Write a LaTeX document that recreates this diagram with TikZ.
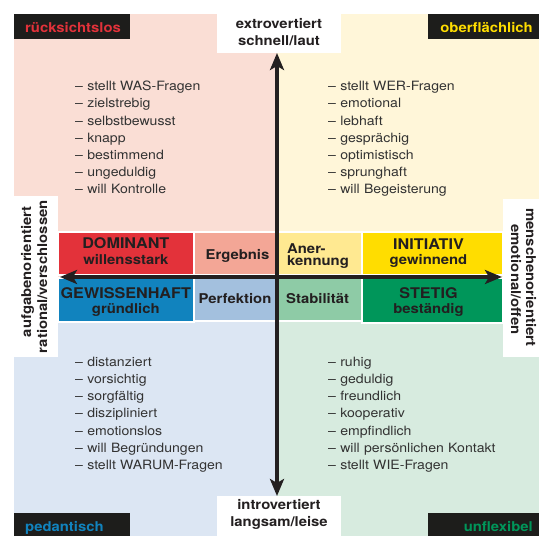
\documentclass[tikz,border=0pt]{standalone}
\usepackage{fontspec}
\setmainfont{TeX Gyre Heros}[FakeStretch=1.1]
\usetikzlibrary{arrows.meta}
\definecolor{qpink}{RGB}{250,222,213}
\definecolor{qyellow}{RGB}{255,246,217}
\definecolor{qblue}{RGB}{220,230,243}
\definecolor{qgreen}{RGB}{215,235,223}
\definecolor{dred}{RGB}{227,50,58}
\definecolor{lred}{RGB}{243,166,150}
\definecolor{dblue}{RGB}{17,131,190}
\definecolor{lblue}{RGB}{163,192,222}
\definecolor{dyellow}{RGB}{255,221,0}
\definecolor{lyellow}{RGB}{255,233,145}
\definecolor{dgreen}{RGB}{0,150,90}
\definecolor{lgreen}{RGB}{142,203,166}
\definecolor{ink}{RGB}{35,31,32}
\definecolor{txt}{RGB}{50,50,50}
\definecolor{tagbg}{RGB}{29,29,27}
\begin{document}
\begin{tikzpicture}[x=1pt,y=-1pt,
  area/.style={draw=none,inner sep=0,outer sep=0,anchor=north west},
  strip/.style={draw=white,line width=1.2pt,inner sep=0,outer sep=0,anchor=north west},
  lst/.style={text=txt,font=\fontsize{12.8}{17.15}\selectfont,align=left,text width=200pt,inner sep=0,anchor=base west},
  lab/.style={text=ink,font=\bfseries\fontsize{13.5}{16}\selectfont,inner sep=0,anchor=base},
  head/.style={text=ink,font=\bfseries\fontsize{14.7}{16}\selectfont,inner sep=0,anchor=base},
  tagtext/.style={font=\bfseries\fontsize{13.5}{16}\selectfont,inner sep=0},
  axis/.style={line width=3.6pt,draw=ink,{Stealth[length=17pt,width=14pt,inset=4pt]}-{Stealth[length=17pt,width=14pt,inset=4pt]}}
]
\useasboundingbox (0,0) rectangle (539,536);
% quadrants
\node[area,fill=qpink,minimum width=263pt,minimum height=263pt] (qTL) at (14,14) {};
\node[area,fill=qyellow,minimum width=262pt,minimum height=263pt] (qTR) at (277,14) {};
\node[area,fill=qblue,minimum width=263pt,minimum height=259pt] (qBL) at (14,277) {};
\node[area,fill=qgreen,minimum width=262pt,minimum height=259pt] (qBR) at (277,277) {};
% white axis label boxes
\node[area,fill=white,minimum width=124pt,minimum height=53pt] (boxN) at (217,0) {};
\node[area,fill=white,minimum width=124pt,minimum height=40pt] (boxS) at (217,496) {};
\node[area,fill=white,minimum width=44pt,minimum height=161pt] (boxW) at (14,196) {};
\node[area,fill=white,minimum width=36pt,minimum height=158pt] (boxE) at (503,199) {};
% black corner tags
\node[area,fill=tagbg,minimum width=116pt,minimum height=25pt] (tagTL) at (14,14) {};
\node[area,fill=tagbg,minimum width=111pt,minimum height=25pt] (tagTR) at (428,14) {};
\node[area,fill=tagbg,minimum width=116pt,minimum height=23pt] (tagBL) at (14,513) {};
\node[area,fill=tagbg,minimum width=111pt,minimum height=23pt] (tagBR) at (428,513) {};
\node[tagtext,text=dred,anchor=base west] (tTL) at (25,32) {rücksichtslos};
\node[tagtext,text=dyellow,anchor=base east] (tTR) at (533,32) {oberflächlich};
\node[tagtext,text=dblue,anchor=base west] (tBL) at (25,531) {pedantisch};
\node[tagtext,text=dgreen,anchor=base east] (tBR) at (533,531) {unflexibel};
% strip boxes
\node[strip,fill=dred,minimum width=136pt,minimum height=43pt] (dom) at (58,232) {};
\node[strip,fill=lred,minimum width=83pt,minimum height=43pt] (erg) at (194,232) {};
\node[strip,fill=dblue,minimum width=136pt,minimum height=44pt] (gew) at (58,278) {};
\node[strip,fill=lblue,minimum width=83pt,minimum height=43pt] (per) at (194,278) {};
\node[strip,fill=lyellow,minimum width=85pt,minimum height=43pt] (ane) at (277,232) {};
\node[strip,fill=dyellow,minimum width=141pt,minimum height=43pt] (ini) at (362,232) {};
\node[strip,fill=lgreen,minimum width=85pt,minimum height=43pt] (sta) at (277,278) {};
\node[strip,fill=dgreen,minimum width=141pt,minimum height=45pt] (ste) at (362,278) {};
% strip texts
\node[head] (domT) at (125.8,248.3) {DOMINANT};
\node[lab] (domS) at (125.8,264) {willensstark};
\node[head] (gewT) at (125.8,298.3) {GEWISSENHAFT};
\node[lab] (gewS) at (125.8,313.3) {gründlich};
\node[lab] (ergT) at (237.5,259) {Ergebnis};
\node[lab] (perT) at (235,303.3) {Perfektion};
\node[lab,anchor=base west] (aneT) at (287,253) {Aner-};
\node[lab,anchor=base west] (aneS) at (287,265) {kennung};
\node[lab,anchor=base west] (staT) at (286,303) {Stabilität};
\node[head] (iniT) at (428.5,249.3) {INITIATIV};
\node[lab] (iniS) at (428.5,264) {gewinnend};
\node[head] (steT) at (428.5,298.3) {STETIG};
\node[lab] (steS) at (428.5,313.3) {beständig};
% axis labels
\node[lab] (nT) at (279,28) {extrovertiert};
\node[lab] (nS) at (279,45.5) {schnell/laut};
\node[lab] (sT) at (279,509.5) {introvertiert};
\node[lab] (sS) at (279,526.5) {langsam/leise};
\node[lab,rotate=90] (wT) at (31,271.7) {aufgabenorientiert};
\node[lab,rotate=90] (wS) at (47,276.7) {rational/verschlossen};
\node[lab,rotate=-90] (eT) at (526,277.5) {menschenorientiert};
\node[lab,rotate=-90] (eS) at (511,279.5) {emotional/offen};
% lists
\node[lst] (lTL) at (75,90.7) {\textendash{} stellt WAS-Fragen\\\textendash{} zielstrebig\\\textendash{} selbstbewusst\\\textendash{} knapp\\\textendash{} bestimmend\\\textendash{} ungeduldig\\\textendash{} will Kontrolle};
\node[lst] (lTR) at (328,90.7) {\textendash{} stellt WER-Fragen\\\textendash{} emotional\\\textendash{} lebhaft\\\textendash{} gesprächig\\\textendash{} optimistisch\\\textendash{} sprunghaft\\\textendash{} will Begeisterung};
\node[lst] (lBL) at (75,366.5) {\textendash{} distanziert\\\textendash{} vorsichtig\\\textendash{} sorgfältig\\\textendash{} diszipliniert\\\textendash{} emotionslos\\\textendash{} will Begründungen\\\textendash{} stellt WARUM-Fragen};
\node[lst] (lBR) at (328,366.5) {\textendash{} ruhig\\\textendash{} geduldig\\\textendash{} freundlich\\\textendash{} kooperativ\\\textendash{} empfindlich\\\textendash{} will persönlichen Kontakt\\\textendash{} stellt WIE-Fragen};
% axes
\coordinate (aN) at (277,53);
\coordinate (aS) at (277,496);
\coordinate (aW) at (60,277);
\coordinate (aE) at (502,277);
\draw[axis] (aW) -- (aE);
\draw[axis] (aN) -- (aS);
\end{tikzpicture}
\end{document}
